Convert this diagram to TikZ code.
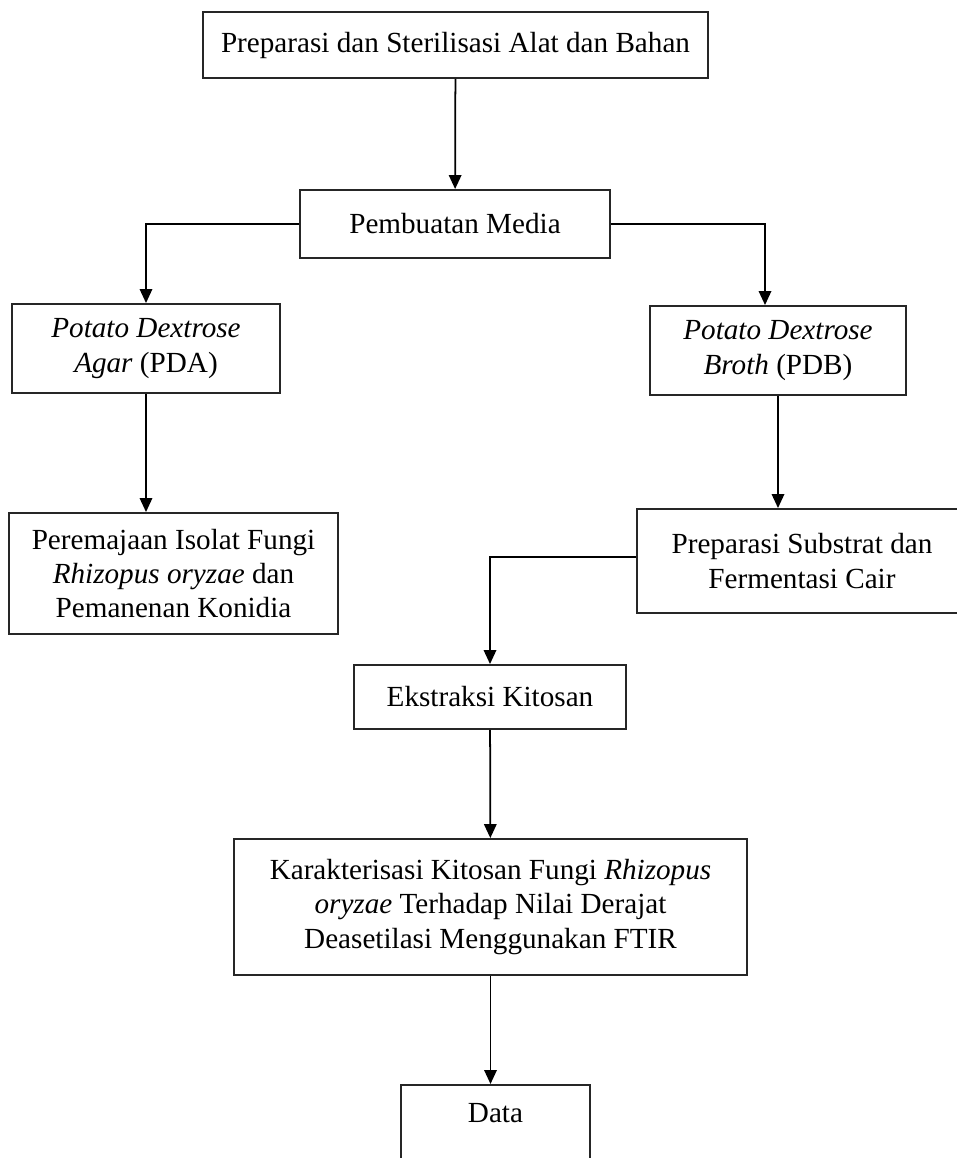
\documentclass[tikz,border=0pt]{standalone}
\usepackage{fontspec}
\setmainfont{Liberation Serif}
\usepackage{tikz}
\usetikzlibrary{arrows.meta, positioning, calc}

\begin{document}
\begin{tikzpicture}[
    x=0.02cm, y=-0.02cm,
    >={Triangle[length=2.8mm, width=2.5mm]},
    box/.style={
        draw=black!85,
        line width=1.1pt,
        fill=white,
        align=center,
        inner sep=2pt,
        font=\fontsize{16.6}{19.5}\selectfont
    },
    flow/.style={
        draw=black,
        line width=1pt,
        ->
    }
]
\useasboundingbox (0,0) rectangle (956,1158);

\node[box, minimum width=10.1cm, minimum height=1.32cm] (prep) at (455.5,45) {Preparasi dan Sterilisasi Alat dan Bahan};

\node[box, minimum width=6.2cm, minimum height=1.36cm] (media) at (455,224) {Pembuatan Media};

\node[box, minimum width=5.36cm, minimum height=1.78cm] (pda) at (146,348.5) {\textit{Potato Dextrose}\\\textit{Agar} (PDA)};
\node[box, minimum width=5.12cm, minimum height=1.78cm] (pdb) at (778,350.5) {\textit{Potato Dextrose}\\\textit{Broth} (PDB)};

\node[box, minimum width=6.58cm, minimum height=2.42cm] (remaja) at (173.5,573.5) {Peremajaan Isolat Fungi\\\textit{Rhizopus oryzae} dan\\Pemanenan Konidia};
\node[box, minimum width=6.6cm, minimum height=2.08cm] (substrat) at (802,561) {Preparasi Substrat dan\\Fermentasi Cair};

\node[box, minimum width=5.44cm, minimum height=1.28cm] (ekstraksi) at (490,697) {Ekstraksi Kitosan};

\node[box, minimum width=10.26cm, minimum height=2.72cm] (karakter) at (490.5,907) {Karakterisasi Kitosan Fungi \textit{Rhizopus}\\\textit{oryzae} Terhadap Nilai Derajat\\Deasetilasi Menggunakan FTIR};

% bottom of this box runs off the page
\node[box, anchor=north, minimum width=3.78cm, inner ysep=0.2cm, text height=0.56cm, text depth=1.5cm] (data) at (495.5,1084) {Data};

\path[flow] (prep) -- (media);
\path[flow] (media.west) -| (pda.north);
\path[flow] (media.east) -| ([xshift=-0.26cm]pdb.north);
\path[flow] (pda.south) -- (pda.south |- remaja.north);
\path[flow] (pdb.south) -- (pdb.south |- substrat.north);
\path[flow] ([yshift=0.08cm]substrat.west) -| (ekstraksi.north);
\path[flow] (ekstraksi) -- (karakter);
\path[flow] (karakter.south) -- (karakter.south |- data.north);

\end{tikzpicture}
\end{document}
